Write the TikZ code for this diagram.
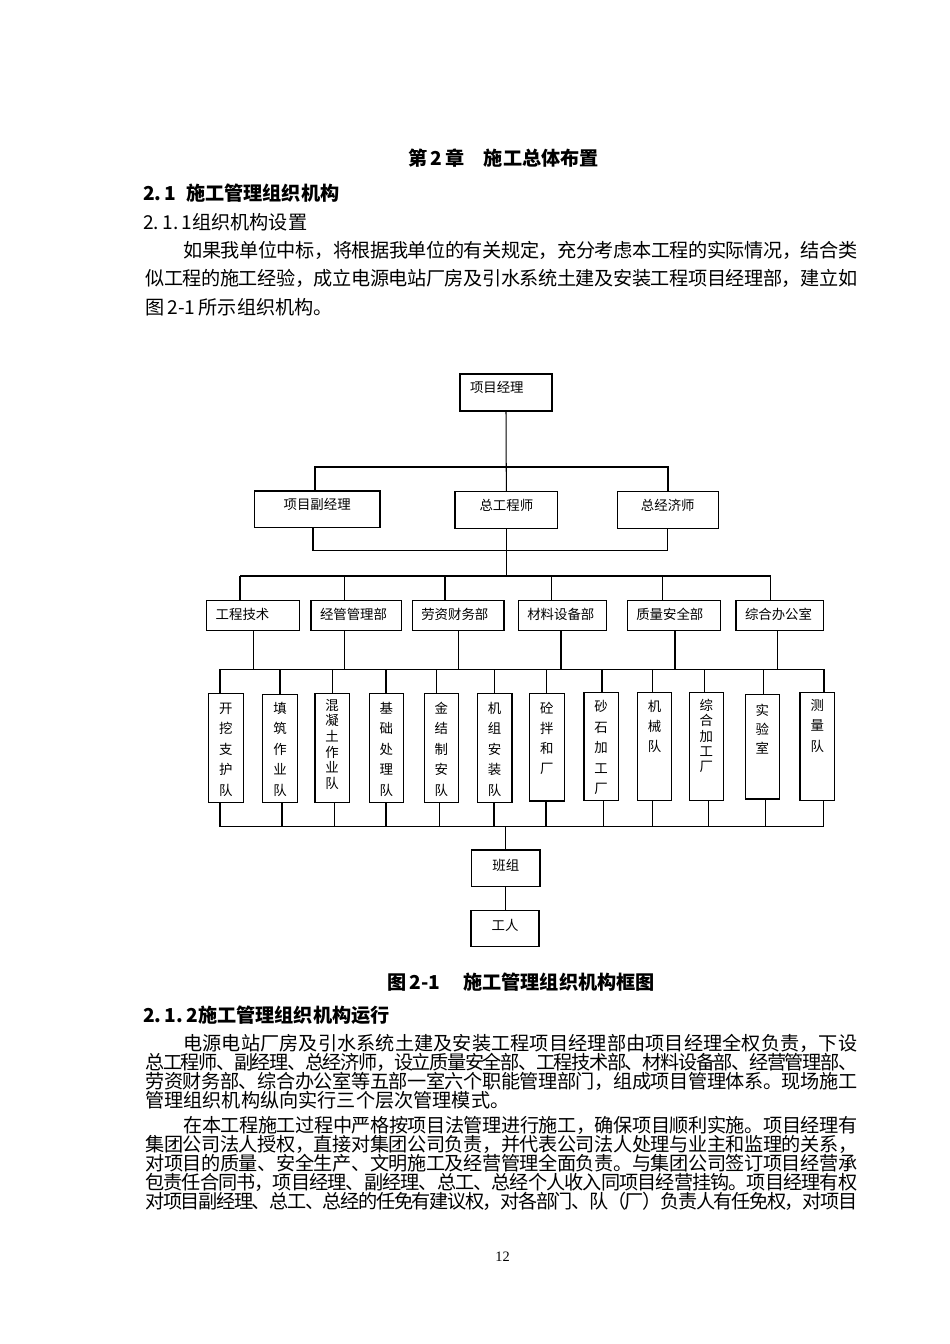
\documentclass[tikz,border=0pt]{standalone}
\usepackage{fontspec}
\setmainfont{Noto Sans CJK SC}
\newfontfamily\serifnum{Liberation Serif}
\newlength\pxu
\setlength\pxu{0.6263pt}
\newcommand\chartfont{\fontsize{8.4pt}{10pt}\selectfont}
\newcommand\Jglue{\hskip 0pt plus 1fil minus 1.5pt}
\def\Jloop#1{\ifx\relax#1\else#1\Jglue\expandafter\Jloop\fi}
\newcommand\justline[2]{\hbox to #1{\Jloop#2\relax\unskip}}
\tikzset{
  box/.style={draw=black, line width=0.65pt, inner sep=0pt, outer sep=0pt, anchor=north west, font=\chartfont},
  sz/.style 2 args={minimum width=#1*\pxu, minimum height=#2*\pxu},
  lbl/.style={text height=7.4pt, text depth=#1},
  wire/.style={draw=black, line width=0.65pt},
  body/.style={anchor=west, inner sep=0pt, font=\fontsize{12pt}{14pt}\selectfont},
  head/.style={anchor=west, inner sep=0pt, font=\fontsize{12pt}{14pt}\selectfont\bfseries},
}
\newcommand\unitbox[8]{%
  \pgfmathsetlengthmacro\uw{(#4-#2)*0.6263pt}%
  \pgfmathsetlengthmacro\uh{(#5-#3)*0.6263pt}%
  \node[box] (#1) at (#2,#3) {\parbox[c][\uh][t]{\uw}{\centering\fontsize{8.4pt}{#6pt}\selectfont\rule{0pt}{#7pt}#8}};%
}
\begin{document}
\begin{tikzpicture}[x=0.6263pt, y=-0.6263pt]
\fill[white] (0,0) rectangle (950,1344);

% ---------- text above ----------
\node[head] (t0) at (408,158.5) {第\,2\,章\hspace{1em}施工总体布置};
\node[head] (h1) at (143,193.5) {2.\,1\hspace{0.5em}施工管理组织机构};
\node[body] (h2) at (143,222) {2.\,1.\,1组织机构设置};
\node[body] (a1) at (183,250) {\justline{422.1pt}{如果我单位中标，将根据我单位的有关规定，充分考虑本工程的实际情况，结合类}};
\node[body] (a2) at (145,278.5) {\justline{445.9pt}{似工程的施工经验，成立电源电站厂房及引水系统土建及安装工程项目经理部，建立如}};
\node[body] (a3) at (145,307) {图\,2-1\,所示组织机构。};

% ---------- chart boxes ----------
\node[box, sz={92}{37}, lbl=7.9pt, text width=45.09pt, align=left] (pm) at (460,374) {项目经理};

\node[box, sz={125.7}{36.3}, lbl=6.4pt] (dpm) at (254.3,491) {项目副经理};
\node[box, sz={102.7}{36.6}, lbl=6.4pt] (ce) at (455,491.7) {总工程师};
\node[box, sz={101}{36.6}, lbl=6.4pt] (ee) at (617.3,491.7) {总经济师};

\node[box, sz={92.6}{29.6}, lbl=2.9pt, text width=46.72pt, align=left] (d1) at (206.7,600.7) {工程技术};
\node[box, sz={90.7}{29.6}, lbl=2.9pt, text width=45.53pt, align=left] (d2) at (311,600.7) {经管管理部};
\node[box, sz={91.7}{29.6}, lbl=2.9pt, text width=46.16pt, align=left] (d3) at (412.3,600.7) {劳资财务部};
\node[box, sz={88.4}{29.6}, lbl=2.9pt, text width=44.09pt, align=left] (d4) at (518.3,600.7) {材料设备部};
\node[box, sz={93.4}{29.6}, lbl=2.9pt, text width=47.22pt, align=left] (d5) at (627.3,600.7) {质量安全部};
\node[box, sz={87.3}{29.6}, lbl=2.9pt, text width=43.40pt, align=left] (d6) at (736,600.7) {综合办公室};

\unitbox{u1}{208.3}{693.3}{243.3}{802.3}{12.84}{12.6}{开\\挖\\支\\护\\队}
\unitbox{u2}{262.7}{694.3}{297.3}{802.3}{12.84}{11.8}{填\\筑\\作\\业\\队}
\unitbox{u3}{315}{693.3}{349.3}{802.3}{9.83}{10.5}{混\\凝\\土\\作\\业\\队}
\unitbox{u4}{369.3}{693.3}{403.3}{802.3}{12.84}{12.6}{基\\础\\处\\理\\队}
\unitbox{u5}{424.3}{693.3}{458.3}{802.3}{12.84}{12.6}{金\\结\\制\\安\\队}
\unitbox{u6}{477.3}{693.3}{512}{802.3}{12.84}{12.6}{机\\组\\安\\装\\队}
\unitbox{u7}{529.3}{693.3}{564.3}{801}{12.5}{12.6}{砼\\拌\\和\\厂}
\unitbox{u8}{584}{692.3}{618.3}{800.3}{12.8}{12.2}{砂\\石\\加\\工\\厂}
\unitbox{u9}{637.3}{692.3}{671.7}{800.3}{12.5}{12.2}{机\\械\\队}
\unitbox{u10}{689.3}{692.3}{723.3}{800.3}{9.65}{11.2}{综\\合\\加\\工\\厂}
\unitbox{u11}{745.3}{694.3}{779.3}{799}{12.0}{13.0}{实\\验\\室}
\unitbox{u12}{800}{692.3}{834.7}{800.3}{13.0}{11.2}{测\\量\\队}

\node[box, sz={68.3}{36.7}, lbl=5.2pt] (bz) at (471.7,850) {班组};
\node[box, sz={68}{36}, lbl=5.6pt] (wk) at (471,910.7) {工人};

% ---------- connectors ----------
\draw[wire] (pm.south) -- (ce.north);
\coordinate (tL) at (315,467);
\coordinate (tR) at (668,467);
\draw[wire] (dpm.north -| tL) -- (tL) -- (tR) -- (ee.north -| tR);

\coordinate (bL) at (313,550.5);
\coordinate (bR) at (667.7,550.5);
\draw[wire] (dpm.south -| bL) -- (bL) -- (bR) -- (ee.south -| bR);

\coordinate (dL) at (240,576);
\coordinate (dR) at (770.7,576);
\draw[wire] (ce.south) -- (ce.south |- dL);
\draw[wire] (dL) -- (dR);
\foreach \n/\x in {d1/240,d2/344.3,d3/445,d4/551.7,d5/662.3,d6/770.7}
  \draw[wire] (dL -| \x,0) -- (\n.north -| \x,0);

\coordinate (uL) at (220,669.3);
\coordinate (uR) at (824,669.3);
\draw[wire] (uL) -- (uR);
\foreach \n/\x in {d1/253.3,d2/344.3,d3/458.3,d4/561,d5/675,d6/777.7}
  \draw[wire] (\n.south -| \x,0) -- (uL -| \x,0);
\foreach \n/\x in {u1/220,u2/280,u3/332.3,u4/386,u5/436.7,u6/494.7,u7/546.7,u8/602,u9/652.3,u10/704.3,u11/763.3,u12/824}
  \draw[wire] (uL -| \x,0) -- (\n.north -| \x,0);

\coordinate (vL) at (219.3,826.7);
\coordinate (vR) at (823.3,826.7);
\draw[wire] (vL) -- (vR);
\foreach \n/\x in {u1/220,u2/282,u3/334.3,u4/386,u5/439.3,u6/494,u7/546,u8/603.3,u9/652.3,u10/708.3,u11/765.3,u12/823.3}
  \draw[wire] (\n.south -| \x,0) -- (vL -| \x,0);
\draw[wire] (vL -| bz.north) -- (bz.north);
\draw[wire] (bz.south) -- (bz.south |- wk.north);

% ---------- text below ----------
\node[head] (cap) at (387,982) {图\,2-1\hspace{1.2em}施工管理组织机构框图};
\node[head] (h3) at (143,1015) {2.\,1.\,2施工管理组织机构运行};
\node[body] (b1) at (183,1043) {\justline{422.1pt}{电源电站厂房及引水系统土建及安装工程项目经理部由项目经理全权负责，下设}};
\node[body] (b2) at (145,1062) {\justline{445.9pt}{总工程师、副经理、总经济师，设立质量安全部、工程技术部、材料设备部、经营管理部、}};
\node[body] (b3) at (145,1081) {\justline{445.9pt}{劳资财务部、综合办公室等五部一室六个职能管理部门，组成项目管理体系。现场施工}};
\node[body] (b4) at (145,1100) {管理组织机构纵向实行三个层次管理模式。};
\node[body] (c1) at (183,1125) {\justline{422.1pt}{在本工程施工过程中严格按项目法管理进行施工，确保项目顺利实施。项目经理有}};
\node[body] (c2) at (145,1144) {\justline{445.9pt}{集团公司法人授权，直接对集团公司负责，并代表公司法人处理与业主和监理的关系，}};
\node[body] (c3) at (145,1163) {\justline{445.9pt}{对项目的质量、安全生产、文明施工及经营管理全面负责。与集团公司签订项目经营承}};
\node[body] (c4) at (145,1182) {\justline{445.9pt}{包责任合同书，项目经理、副经理、总工、总经个人收入同项目经营挂钩。项目经理有权}};
\node[body] (c5) at (145,1201) {\justline{445.9pt}{对项目副经理、总工、总经的任免有建议权，对各部门、队（厂）负责人有任免权，对项目}};
\node[anchor=center, inner sep=0pt, font=\serifnum\fontsize{9pt}{10pt}\selectfont] (pg) at (502.5,1257) {12};
\end{tikzpicture}
\end{document}
